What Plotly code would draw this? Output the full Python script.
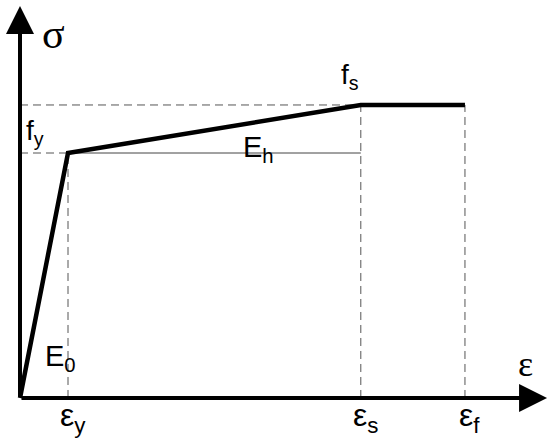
"""
Bilinear stress-strain diagram for steel (sigma - epsilon)
"""
import plotly.graph_objects as go

# strain values (relative to eps_y) and stress values (relative to f_y)
strain_labels = ['ε<sub>y</sub>', 'ε<sub>s</sub>', 'ε<sub>f</sub>']
strain_values = [1.0, 7.1, 9.27]
stress_labels = ['f<sub>y</sub>', 'f<sub>s</sub>']
stress_values = [1.0, 1.196]

# curve points: origin -> yield -> hardening end -> fracture
curve_strain = [0.0, 1.0, 7.1, 9.27]
curve_stress = [0.0, 1.0, 1.196, 1.196]

eps_y, eps_s, eps_f = strain_values
f_y, f_s = stress_values

x_range = [-0.4167, 11.0]
y_range = [-0.1633, 1.6245]
x_end = 10.98
y_end = 1.6

sans = 'Liberation Sans, Arial, sans-serif'
serif = 'Liberation Serif, Times New Roman, serif'
dash_col = '#555555'

fig = go.Figure()

# dashed reference lines
dashed = [
    (0, f_s, eps_s, f_s),
    (0, f_y, eps_y, f_y),
    (eps_y, 0, eps_y, f_y),
    (eps_s, 0, eps_s, f_s),
    (eps_f, 0, eps_f, f_s),
]
for x0, y0, x1, y1 in dashed:
    fig.add_shape(type='line', x0=x0, y0=y0, x1=x1, y1=y1, xref='x', yref='y',
                  line=dict(color=dash_col, width=1, dash='8px,5px'), layer='below')

# thin solid line for E_h
fig.add_shape(type='line', x0=eps_y, y0=f_y, x1=eps_s, y1=f_y, xref='x', yref='y',
              line=dict(color='#444444', width=1), layer='below')

# stress-strain curve
fig.add_trace(go.Scatter(
    x=curve_strain, y=curve_stress, mode='lines',
    line=dict(color='black', width=4.5),
    hoverinfo='skip', showlegend=False,
))

# axes with arrows
fig.add_annotation(x=x_end, y=0, ax=0, ay=0, xref='x', yref='y', axref='x', ayref='y',
                   text='', showarrow=True, arrowhead=2, arrowsize=1.4, arrowwidth=4,
                   arrowcolor='black')
fig.add_annotation(x=0, y=y_end, ax=0, ay=0, xref='x', yref='y', axref='x', ayref='y',
                   text='', showarrow=True, arrowhead=2, arrowsize=1.4, arrowwidth=4,
                   arrowcolor='black')

# axis titles
fig.add_annotation(x=0, y=1.469, xref='x', yref='y', text='σ', showarrow=False,
                   xanchor='center', xshift=33, yshift=4,
                   font=dict(family=serif, size=42, color='black'))
fig.add_annotation(x=x_end, y=0, xref='x', yref='y', text='ε', showarrow=False,
                   xanchor='right', yanchor='bottom', xshift=-12, yshift=12,
                   font=dict(family=serif, size=36, color='black'))

# strain labels under the axis
for lab, val in zip(strain_labels, strain_values):
    fig.add_annotation(x=val, y=0, xref='x', yref='y', text=lab, showarrow=False,
                       xanchor='center', yanchor='top', xshift=5, yshift=3,
                       font=dict(family=sans, size=32, color='black'))

# stress labels
fig.add_annotation(x=0, y=f_y, xref='x', yref='y', text=stress_labels[0], showarrow=False,
                   xanchor='left', yanchor='bottom', xshift=4, yshift=1,
                   font=dict(family=sans, size=28, color='black'))
fig.add_annotation(x=eps_s, y=f_s, xref='x', yref='y', text=stress_labels[1], showarrow=False,
                   xanchor='right', yanchor='bottom', xshift=0, yshift=9,
                   font=dict(family=sans, size=28, color='black'))

# moduli
fig.add_annotation(x=(eps_y + eps_s) / 2, y=f_y, xref='x', yref='y', text='E<sub>h</sub>',
                   showarrow=False, xanchor='center', yanchor='middle', xshift=44, yshift=4,
                   font=dict(family=sans, size=29, color='black'))
fig.add_annotation(x=eps_y, y=0, xref='x', yref='y', text='E<sub>0</sub>',
                   showarrow=False, xanchor='right', yanchor='bottom', xshift=10, yshift=20,
                   font=dict(family=sans, size=29, color='black'))

fig.update_layout(
    width=548, height=438,
    margin=dict(l=0, r=0, t=0, b=0),
    paper_bgcolor='white', plot_bgcolor='white',
    xaxis=dict(range=x_range, visible=False, fixedrange=True),
    yaxis=dict(range=y_range, visible=False, fixedrange=True),
    showlegend=False,
)

fig.write_html("out.html", config={'displayModeBar': False},
               post_script="document.body.style.margin='0';document.body.style.overflow='hidden';")
